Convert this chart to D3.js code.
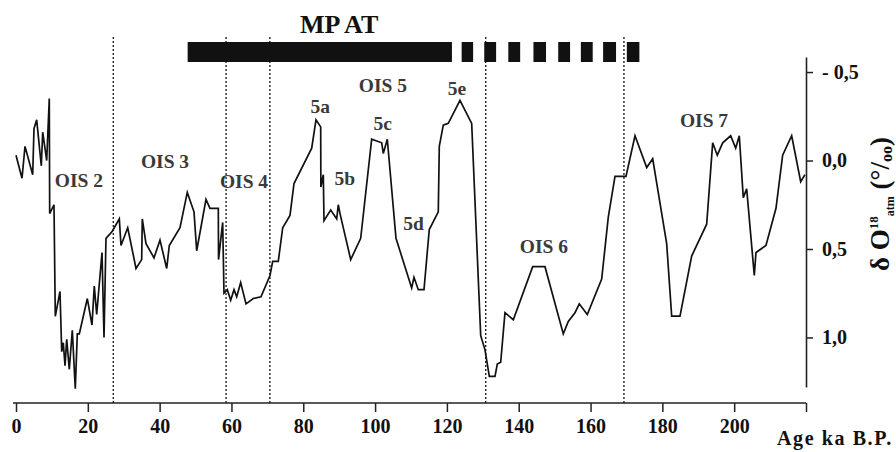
<!DOCTYPE html>
<html>
<head>
<meta charset="utf-8">
<script src="https://cdn.jsdelivr.net/npm/d3@7"></script>
<style>
  html, body { margin: 0; padding: 0; background: #fff; }
  svg { display: block; }
  text { font-family: "Liberation Serif", "Times New Roman", serif; font-weight: bold; }
</style>
</head>
<body>
<svg id="chart" width="896" height="452"></svg>
<script>
// ---- data ----
const ages = [0, 1.67, 2.51, 4.65, 5.01, 5.76, 7.05, 7.44, 8.55, 9.27, 9.38, 10.58, 10.94, 12.25, 12.73, 13.17, 13.65, 14.12, 14.84, 15.68, 16.51, 17.07, 17.63, 19.86, 21.16, 21.8, 22.47, 23.95, 24.51, 25.06, 26.82, 28.77, 29.24, 31.11, 33.42, 35.0, 35.17, 36.2, 38.43, 40.1, 41.97, 42.69, 45.67, 47.7, 49.57, 50.32, 52.91, 54.02, 56.34, 56.4, 57.56, 57.92, 58.84, 59.79, 60.71, 61.46, 62.57, 64.05, 66.08, 68.23, 70.73, 71.48, 73.04, 74.27, 76.3, 77.42, 82.35, 83.54, 84.85, 84.9, 85.58, 85.77, 87.64, 89.31, 89.75, 90.23, 93.21, 95.99, 99.05, 101.84, 102.28, 103.4, 105.82, 110.19, 110.83, 112.03, 113.62, 115.09, 117.6, 117.88, 118.99, 120.38, 123.64, 126.9, 129.41, 130.61, 131.81, 133.39, 134.03, 134.98, 136.17, 138.49, 143.89, 147.31, 152.41, 153.8, 155.67, 156.86, 159.09, 163.1, 164.94, 166.81, 169.87, 172.38, 175.64, 177.31, 181.2, 182.6, 184.91, 188.16, 192.34, 194.01, 195.29, 196.8, 199.02, 200.42, 201.42, 202.53, 203.48, 205.6, 206.07, 208.85, 211.64, 213.5, 216.01, 218.52, 219.72];
const d18O = [-0.03, 0.10, -0.08, 0.08, -0.18, -0.23, 0.03, -0.16, 0.00, -0.35, 0.30, 0.25, 0.88, 0.74, 1.08, 1.03, 1.16, 1.01, 1.18, 0.96, 1.29, 0.98, 0.98, 0.78, 0.93, 0.71, 0.87, 0.52, 1.00, 0.44, 0.40, 0.33, 0.48, 0.38, 0.61, 0.56, 0.33, 0.47, 0.55, 0.45, 0.61, 0.48, 0.38, 0.18, 0.29, 0.51, 0.22, 0.27, 0.27, 0.56, 0.35, 0.75, 0.73, 0.79, 0.73, 0.77, 0.69, 0.81, 0.78, 0.77, 0.65, 0.57, 0.57, 0.38, 0.31, 0.13, -0.07, -0.23, -0.19, 0.15, 0.08, 0.34, 0.28, 0.33, 0.25, 0.30, 0.56, 0.44, -0.12, -0.10, -0.04, -0.12, 0.44, 0.72, 0.66, 0.73, 0.73, 0.39, 0.29, -0.08, -0.20, -0.21, -0.34, -0.21, 0.99, 1.07, 1.22, 1.22, 1.15, 1.14, 0.86, 0.90, 0.60, 0.60, 0.98, 0.91, 0.86, 0.81, 0.87, 0.67, 0.32, 0.09, 0.09, -0.14, 0.04, -0.01, 0.47, 0.88, 0.88, 0.54, 0.36, -0.10, -0.03, -0.10, -0.14, -0.07, -0.14, 0.21, 0.16, 0.65, 0.52, 0.48, 0.27, -0.03, -0.14, 0.12, 0.08];

const oisBoundaries = [27.1, 58.5, 70.7, 130.8, 169.3];

const mpatSolidStart = 47.8;
const mpatSolidEnd = 121.4;
const mpatDashStarts = [124.1, 130.4, 137.1, 144.1, 151.0, 157.3, 163.5, 170.1];
const mpatDashEnds   = [127.3, 133.7, 140.4, 147.6, 154.3, 160.6, 167.1, 173.6];

const xTicks = [0, 20, 40, 60, 80, 100, 120, 140, 160, 180, 200, 220];
const xTickLabels = ["0", "20", "40", "60", "80", "100", "120", "140", "160", "180", "200", ""];
const yTicks = [-0.5, 0, 0.5, 1.0];
const yTickLabels = ["- 0,5", "0,0", "0,5", "1,0"];

const stageNames = ["OIS 2", "OIS 3", "OIS 4", "OIS 5", "5a", "5b", "5c", "5d", "5e", "OIS 6", "OIS 7"];
const stageAge   = [17.5, 41.5, 63.5, 102.2, 84.7, 91.6, 102.1, 110.7, 122.8, 147.0, 191.6];
const stageValue = [0.15, 0.04, 0.155, -0.39, -0.27, 0.14, -0.17, 0.39, -0.37, 0.52, -0.19];

// ---- chart ----
const svg = d3.select("#chart");
const x = d3.scaleLinear().domain([0, 220]).range([16, 806]);
const y = d3.scaleLinear().domain([-0.585, 1.28]).range([57, 387]);
const axisY = 403;

// dotted stage boundaries
svg.append("g").selectAll("line").data(oisBoundaries).join("line")
  .attr("x1", d => x(d)).attr("x2", d => x(d))
  .attr("y1", 37).attr("y2", axisY)
  .attr("stroke", "#222").attr("stroke-width", 1.4)
  .attr("stroke-dasharray", "2,2");

// MP AT bar
const bar = svg.append("g").attr("fill", "#111");
bar.append("rect")
  .attr("x", x(mpatSolidStart)).attr("y", 42)
  .attr("width", x(mpatSolidEnd) - x(mpatSolidStart)).attr("height", 20);
bar.selectAll("rect.dash").data(d3.range(mpatDashStarts.length)).join("rect")
  .attr("class", "dash")
  .attr("x", i => x(mpatDashStarts[i])).attr("y", 42)
  .attr("width", i => x(mpatDashEnds[i]) - x(mpatDashStarts[i])).attr("height", 20);

svg.append("text").attr("x", x(90)).attr("y", 33)
  .attr("text-anchor", "middle").attr("font-size", 26).attr("fill", "#111")
  .text("MP AT");

// curve
const pts = ages.map((a, i) => [a, d18O[i]]);
svg.append("path").datum(pts)
  .attr("fill", "none").attr("stroke", "#111").attr("stroke-width", 1.7)
  .attr("stroke-linejoin", "miter")
  .attr("d", d3.line().x(d => x(d[0])).y(d => y(d[1])));

// stage labels
svg.append("g").selectAll("text").data(stageNames).join("text")
  .attr("x", (d, i) => x(stageAge[i])).attr("y", (d, i) => y(stageValue[i]))
  .attr("text-anchor", "middle").attr("font-size", 19.5).attr("fill", "#3a3a3a")
  .text(d => d);

// x axis
const xAxis = d3.axisBottom(x).tickValues(xTicks)
  .tickFormat((d, i) => xTickLabels[i]).tickSize(9).tickSizeOuter(0).tickPadding(7);
const gx = svg.append("g").attr("transform", `translate(0,${axisY})`).call(xAxis);
gx.select(".domain").attr("stroke", "#222").attr("stroke-width", 1.6)
  .attr("d", `M13,0H${x(220)}`);
gx.selectAll(".tick line").attr("stroke", "#222").attr("stroke-width", 1.5);
gx.selectAll(".tick text").attr("font-size", 20).attr("fill", "#111")
  .attr("font-family", "'Liberation Serif', 'Times New Roman', serif").attr("font-weight", "bold");

svg.append("text").attr("x", 777).attr("y", 445)
  .attr("font-size", 20).attr("letter-spacing", 1.6).attr("fill", "#111")
  .text("Age ka B.P.");

// y axis (right)
const yAxis = d3.axisRight(y).tickValues(yTicks)
  .tickFormat((d, i) => yTickLabels[i]).tickSize(7).tickSizeOuter(0).tickPadding(9);
const gy = svg.append("g").attr("transform", `translate(${x(220)},0)`).call(yAxis);
gy.select(".domain").attr("stroke", "#222").attr("stroke-width", 1.6);
gy.selectAll(".tick line").attr("stroke", "#222").attr("stroke-width", 1.5);
gy.selectAll(".tick text").attr("font-size", 20).attr("fill", "#111")
  .attr("font-family", "'Liberation Serif', 'Times New Roman', serif").attr("font-weight", "bold");

// y axis title
const title = svg.append("text")
  .attr("transform", "translate(889,204) rotate(-90)")
  .attr("text-anchor", "middle").attr("fill", "#111").attr("font-size", 27);
title.append("tspan").text("δ O");
title.append("tspan").attr("font-size", 13).attr("dy", -11).text("18");
title.append("tspan").attr("font-size", 12).attr("dy", 16).text("atm");
title.append("tspan").attr("dy", -5).text(" (°/");
title.append("tspan").attr("font-size", 16).attr("dy", 3).text("oo");
title.append("tspan").attr("dy", -3).text(")");
</script>
</body>
</html>
